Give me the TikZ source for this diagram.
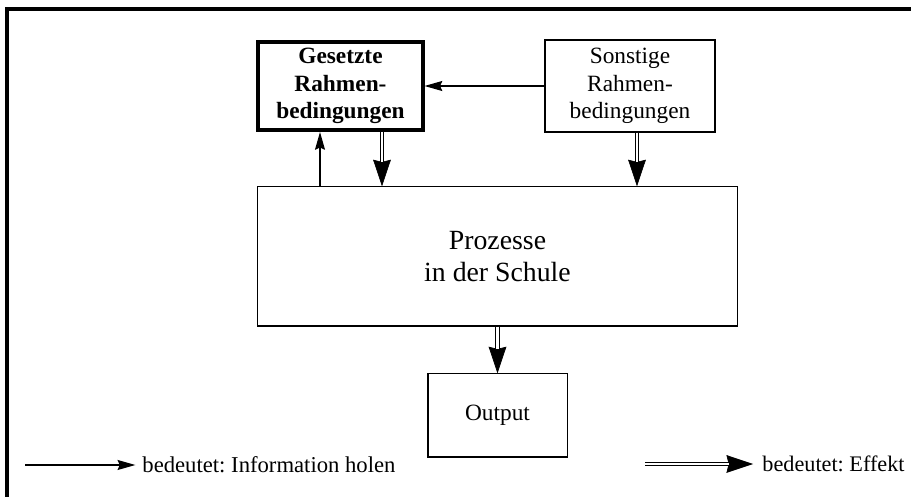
\documentclass[tikz,border=0pt]{standalone}
\usepackage{fontspec}
\setmainfont{Liberation Serif}
\frenchspacing
\usetikzlibrary{arrows.meta}
\tikzset{
  box/.style={draw,line width=0.5pt,align=center,inner sep=0pt},
  info/.style={line width=0.5pt,-{Stealth[length=8pt,width=4.5pt,inset=1pt]}},
  effekt/.style={line width=0.3pt,-{Stealth[length=12pt,width=8pt,inset=1pt]},
    postaction={draw,-,double,double distance=1.3pt,line width=0.45pt,shorten >=11pt}}
}
\begin{document}
\begin{tikzpicture}[x=0.45pt,y=-0.45pt,font=\fontsize{10.5}{12.5}\selectfont]
\clip (0,0) rectangle (911,497);
\useasboundingbox (0,0) rectangle (911,497);
% rahmen
\draw[line width=1.4pt](7,520)--(7,9)--(930,9);
% kaesten
\node[box,line width=1.8pt,font=\fontsize{10.5}{12.5}\selectfont\bfseries,minimum width=73.8pt,minimum height=39.6pt] (gesetzt) at (340.5,86) {Gesetzte\\Rahmen-\\bedingungen};
\node[box,minimum width=76.5pt,minimum height=41.4pt] (sonstig) at (630,86) {Sonstige\\Rahmen-\\bedingungen};
\node[box,font=\fontsize{12.5}{14.5}\selectfont,minimum width=215.6pt,minimum height=62.6pt] (schule) at (497.5,256.5) {Prozesse\\in der Schule};
\node[box,minimum width=62.6pt,minimum height=37.4pt] (output) at (497.5,415.5) {Output};
% pfeile
\coordinate (a1) at (320,0);
\coordinate (a2) at (382,0);
\coordinate (a3) at (637,0);
\draw[info](sonstig.west)--(gesetzt.east);
\draw[info](schule.north -| a1)--(gesetzt.south -| a1);
\draw[effekt](gesetzt.south -| a2)--(schule.north -| a2);
\draw[effekt](sonstig.south -| a3)--(schule.north -| a3);
\draw[effekt](schule.south)--(output.north);
% legende
\coordinate (l1) at (25,465);
\coordinate (l2) at (645,464);
\node[anchor=west,inner sep=0pt,font=\fontsize{10.2}{12}\selectfont] (lt1) at (142,465) {bedeutet: Information holen};
\node[anchor=west,inner sep=0pt,font=\fontsize{10}{12}\selectfont] (lt2) at (762,464) {bedeutet: Effekt};
\draw[info](l1)--([xshift=-3pt]lt1.west);
\draw[effekt](l2)--([xshift=-4pt]lt2.west);
\end{tikzpicture}
\end{document}
